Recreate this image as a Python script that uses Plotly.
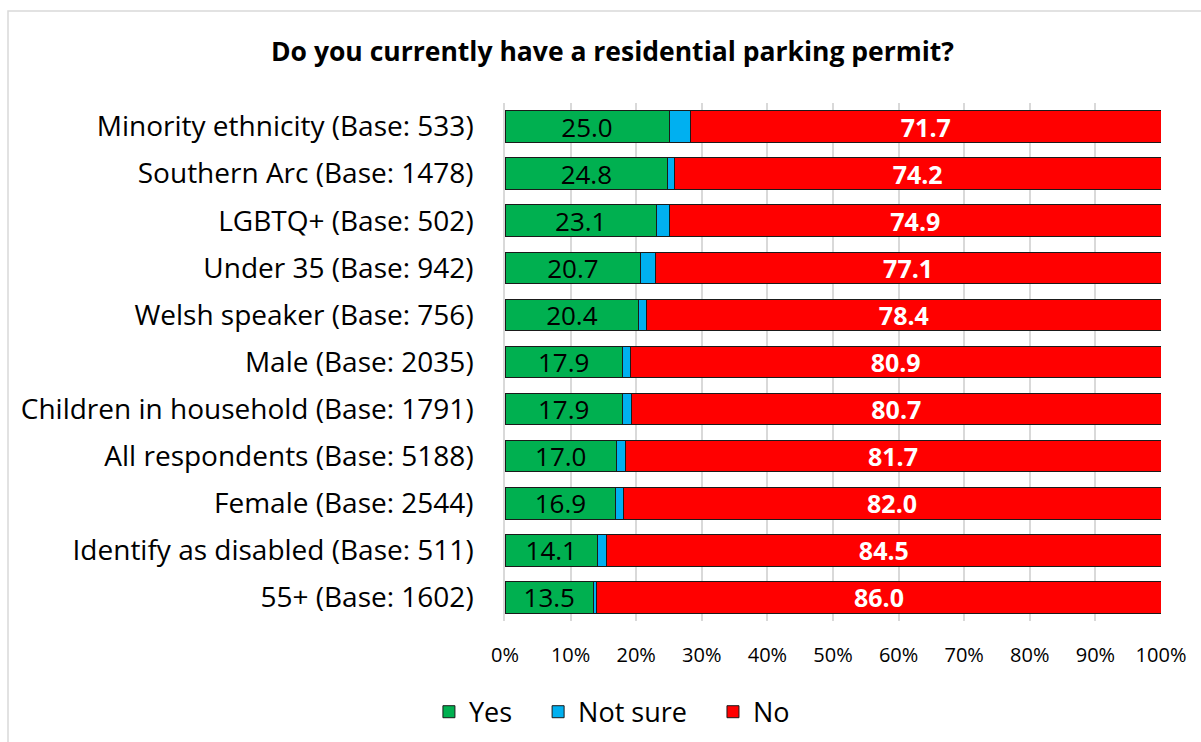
import plotly.graph_objects as go

categories = [
    "Minority ethnicity (Base: 533)",
    "Southern Arc (Base: 1478)",
    "LGBTQ+ (Base: 502)",
    "Under 35 (Base: 942)",
    "Welsh speaker (Base: 756)",
    "Male (Base: 2035)",
    "Children in household (Base: 1791)",
    "All respondents (Base: 5188)",
    "Female (Base: 2544)",
    "Identify as disabled (Base: 511)",
    "55+ (Base: 1602)",
]
yes = [25.0, 24.8, 23.1, 20.7, 20.4, 17.9, 17.9, 17.0, 16.9, 14.1, 13.5]
not_sure = [3.3, 1.0, 2.0, 2.2, 1.2, 1.2, 1.4, 1.3, 1.1, 1.4, 0.5]
no = [71.7, 74.2, 74.9, 77.1, 78.4, 80.9, 80.7, 81.7, 82.0, 84.5, 86.0]
x_ticks = [0, 10, 20, 30, 40, 50, 60, 70, 80, 90, 100]
x_tick_labels = [f"{t}%" for t in x_ticks]

FONT = "Open Sans"
PAD = "\u00a0\u00a0\u00a0"
fig = go.Figure()
fig.add_trace(go.Bar(
    y=categories, x=yes, name="Yes" + PAD, orientation="h",
    marker=dict(color="#00B050", line=dict(color="#1a1a1a", width=1)),
    text=[f"{v:.1f}" for v in yes], textposition="inside", insidetextanchor="middle",
    constraintext="none",
    textfont=dict(family=FONT, size=26, color="black"),
))
fig.add_trace(go.Bar(
    y=categories, x=not_sure, name="Not sure" + PAD, orientation="h",
    marker=dict(color="#00B0F0", line=dict(color="#1a1a1a", width=1)),
))
fig.add_trace(go.Bar(
    y=categories, x=no, name="No", orientation="h",
    marker=dict(color="#FF0000", line=dict(color="#1a1a1a", width=1)),
    text=[f"<b>{v:.1f}</b>" for v in no], textposition="inside", insidetextanchor="middle",
    constraintext="none",
    textfont=dict(family=FONT, size=25, color="white"),
))

fig.update_layout(
    barmode="stack",
    bargap=0.33,
    width=1201, height=742,
    margin=dict(l=505, r=40, t=103, b=121, autoexpand=False),
    paper_bgcolor="white", plot_bgcolor="white",
    font=dict(family=FONT, color="black"),
    title=dict(text="<b>Do you currently have a residential parking permit?</b>",
               x=0.51, xanchor="center", y=1 - 52 / 742, yref="container", yanchor="middle",
               font=dict(family=FONT, size=26.5, color="black")),
    xaxis=dict(range=[0, 100], tickvals=x_ticks, ticktext=x_tick_labels,
               showgrid=True, gridcolor="#d9d9d9", gridwidth=1.5, zeroline=False,
               tickfont=dict(family=FONT, size=20), ticks="", showline=False,
               ticklabelstandoff=20, automargin=False),
    yaxis=dict(categoryorder="array", categoryarray=categories, autorange="reversed",
               tickfont=dict(family=FONT, size=28), ticks="", showline=True,
               linecolor="#d9d9d9", linewidth=1.5, ticklabelstandoff=24, automargin=False),
    legend=dict(orientation="h", x=0.163, xanchor="center", y=-0.176, yanchor="middle",
                font=dict(family=FONT, size=27), traceorder="normal"),
    shapes=[dict(type="rect", xref="paper", yref="paper",
                 x0=(8 - 505) / 656, x1=(1240 - 505) / 656,
                 y0=1 - (760 - 103) / 518, y1=1 + (103 - 11) / 518,
                 line=dict(color="#d9d9d9", width=1.5), fillcolor="rgba(0,0,0,0)")],
)
fig.write_html("out.html", post_script="document.body.style.margin='0';",
               config={"displayModeBar": False})
